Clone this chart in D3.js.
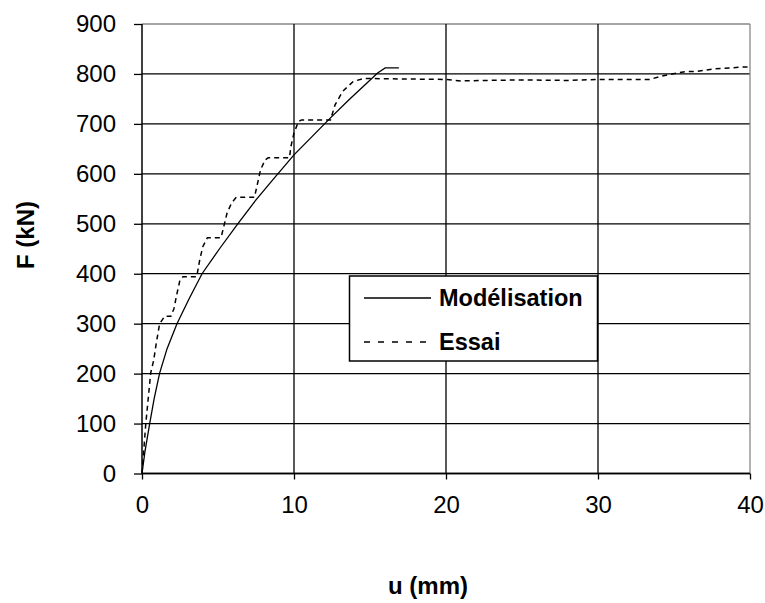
<!DOCTYPE html>
<html>
<head>
<meta charset="utf-8">
<script src="https://cdn.jsdelivr.net/npm/d3@7"></script>
<style>
  body { margin: 0; background: #fff; }
  text { font-family: "Liberation Sans", Arial, sans-serif; fill: #000; }
</style>
</head>
<body>
<script>
// u (mm) / F (kN)
var modelU = [0, 0.2, 0.5, 0.8, 1.16, 1.65, 2.3, 3.1, 3.95, 5.1, 6.3, 7.5, 8.6, 10.0, 11.2, 12.4, 13.6, 14.8, 15.5, 16.0, 16.9];
var modelF = [0, 45, 99, 150, 201, 250, 300, 350, 400, 450, 500, 548, 588, 638, 675, 712, 748, 782, 802, 812, 812];

var essaiU = [0, 0.15, 0.25, 0.4, 0.57, 0.77, 0.94, 1.16, 1.5, 1.9, 2.1, 2.3, 2.5, 2.7, 3.6, 3.8, 4.0, 4.3, 5.2, 5.6, 5.9, 6.2, 7.4, 7.8, 8.1, 8.3, 9.7, 9.8, 10.0, 10.3, 10.5, 12.4, 12.7, 13.2, 13.9, 14.6, 17, 20, 21, 22.5, 25, 28, 30, 33.4, 34.1, 34.7, 35.8, 36.5, 37.6, 39.6, 40];
var essaiF = [0, 60, 100, 147, 201, 227, 261, 300, 315, 315, 330, 360, 388, 394, 394, 428, 454, 472, 472, 522, 542, 553, 553, 608, 628, 632, 632, 655, 682, 705, 708, 708, 738, 765, 785, 791, 790, 789, 786, 787, 788, 787, 789, 789, 795, 799, 805, 805, 810, 814, 814];

var xTicks = [0, 10, 20, 30, 40];
var yTicks = [0, 100, 200, 300, 400, 500, 600, 700, 800, 900];

var seriesNames = ['Modélisation', 'Essai'];

var drawChart = () => {
  const w = 765;
  const h = 603;
  const left = 142, right = 750, top = 24, bottom = 473.5;

  var svg = d3.select('body')
    .append('svg')
    .attr('width', w)
    .attr('height', h);

  var x = d3.scaleLinear().domain([0, 40]).range([left, right]);
  var y = d3.scaleLinear().domain([0, 900]).range([bottom, top]);

  // gridlines
  svg.append('g')
    .selectAll('line')
    .data(yTicks)
    .enter()
    .append('line')
    .attr('x1', left).attr('x2', right)
    .attr('y1', d => y(d)).attr('y2', d => y(d))
    .attr('stroke', d => d === 900 ? '#888' : '#000')
    .attr('stroke-width', 1.3);

  svg.append('g')
    .selectAll('line')
    .data(xTicks.slice(1))
    .enter()
    .append('line')
    .attr('x1', d => x(d)).attr('x2', d => x(d))
    .attr('y1', top).attr('y2', bottom)
    .attr('stroke', d => d === 40 ? '#888' : '#000')
    .attr('stroke-width', 1.3);

  // axes
  var yAxis = d3.axisLeft(y).tickValues(yTicks).tickSize(8).tickPadding(18);
  var xAxis = d3.axisBottom(x).tickValues(xTicks).tickSize(6).tickPadding(16.5);

  var gy = svg.append('g')
    .attr('transform', 'translate(' + left + ',0)')
    .call(yAxis);
  var gx = svg.append('g')
    .attr('transform', 'translate(0,' + bottom + ')')
    .call(xAxis);

  [gx, gy].forEach(g => {
    g.select('.domain').attr('stroke', '#000').attr('stroke-width', 1.5);
    g.selectAll('.tick line').attr('stroke', '#000').attr('stroke-width', 1.3);
    g.selectAll('.tick text')
      .style('font-family', '"Liberation Sans", Arial, sans-serif')
      .style('font-size', '24px')
      .attr('fill', '#111');
  });
  gy.select('.domain').attr('d', 'M0,' + bottom + 'V' + top);
  gx.select('.domain').attr('d', 'M' + left + ',0H' + right);

  // curves
  var line = d3.line()
    .x(d => x(d[0]))
    .y(d => y(d[1]));

  svg.append('path')
    .datum(modelU.map((u, i) => [u, modelF[i]]))
    .attr('d', line)
    .attr('fill', 'none')
    .attr('stroke', '#000')
    .attr('stroke-width', 1.3);

  svg.append('path')
    .datum(essaiU.map((u, i) => [u, essaiF[i]]))
    .attr('d', line)
    .attr('fill', 'none')
    .attr('stroke', '#000')
    .attr('stroke-width', 1.5)
    .attr('stroke-dasharray', '5,4');

  // axis titles
  svg.append('text')
    .attr('transform', 'translate(34,235) rotate(-90)')
    .attr('text-anchor', 'middle')
    .style('font-size', '24px')
    .style('font-weight', 'bold')
    .text('F (kN)');

  svg.append('text')
    .attr('x', 428)
    .attr('y', 594)
    .attr('text-anchor', 'middle')
    .style('font-size', '24px')
    .style('font-weight', 'bold')
    .text('u (mm)');

  // legend
  var legend = svg.append('g');
  legend.append('rect')
    .attr('x', 349.5).attr('y', 276)
    .attr('width', 248).attr('height', 85)
    .attr('fill', '#fff')
    .attr('stroke', '#000')
    .attr('stroke-width', 1.5);

  var items = legend.selectAll('g')
    .data(seriesNames)
    .enter()
    .append('g')
    .attr('transform', (d, i) => 'translate(0,' + (298 + i * 44) + ')');

  items.append('line')
    .attr('x1', 364).attr('x2', 431)
    .attr('y1', 0).attr('y2', 0)
    .attr('stroke', '#000')
    .attr('stroke-width', (d, i) => i === 0 ? 1.3 : 1.5)
    .attr('stroke-dasharray', (d, i) => i === 0 ? null : '6,8');

  items.append('text')
    .attr('x', 439)
    .attr('y', 8)
    .style('font-size', '23.5px')
    .style('font-weight', 'bold')
    .text(d => d);
}

drawChart();
</script>
</body>
</html>
